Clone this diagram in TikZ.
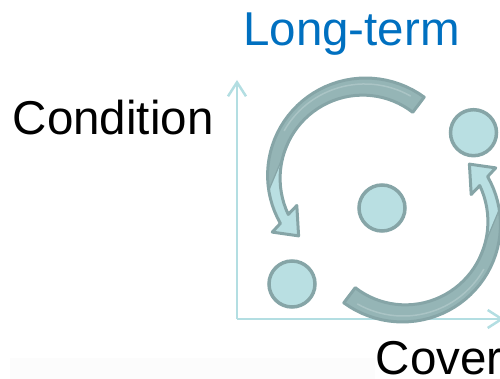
\documentclass[tikz,border=0pt]{standalone}
\usepackage{fontspec}
\setmainfont{Liberation Sans}
\usetikzlibrary{arrows.meta}
\definecolor{axiscol}{HTML}{B3DEE2}
\definecolor{edgecol}{HTML}{86A5A7}
\definecolor{darkfill}{HTML}{95B5B6}
\definecolor{lightfill}{HTML}{B9DFE2}
\definecolor{bluetext}{HTML}{0070C0}
\definecolor{faintband}{HTML}{FCFCFC}
\tikzset{
  dot/.style={circle, draw=edgecol, fill=lightfill, line width=3.5pt, minimum size=46pt, inner sep=0pt},
  axisline/.style={draw=axiscol, line width=2.5pt, -{Straight Barb[length=14pt,width=18pt]}},
  txt/.style={inner sep=0pt, anchor=base west, font=\fontsize{47.5}{56}\selectfont},
  twistarrow/.pic={
    \fill[darkfill] (53:100) -- plot[domain=53:209,samples=40] (\x:{100-4.4*(\x-53)/156}) -- (211:107) -- (222:88) -- (203:73) -- plot[domain=206.3:53,samples=40] (\x:{81+3.5*(\x-53)/153.3}) -- cycle;
    \draw[darkfill!80!white, line width=1.5pt] plot[domain=60:150,samples=30] (\x:{93.5-2*(\x-53)/156});
    \path[fill=lightfill, draw=edgecol, line width=1.2pt, line join=round] plot[domain=188:209,samples=15] (\x:{100-4.4*(\x-53)/156}) -- (211:107) -- (222:88) -- (203:73) -- plot[domain=206.3:150,samples=20] (\x:{81+3.5*(\x-53)/153.3}) -- cycle;
    \draw[edgecol, line width=3pt, line join=round] (53:100) -- plot[domain=53:209,samples=40] (\x:{100-4.4*(\x-53)/156}) -- (211:107) -- (222:88) -- (203:73) -- plot[domain=206.3:53,samples=40] (\x:{81+3.5*(\x-53)/153.3}) -- cycle;
  }
}
\begin{document}
\begin{tikzpicture}[x=1pt,y=1pt]
\useasboundingbox (0,0) rectangle (500,379);
\fill[faintband] (10,0) rectangle (375,21);
% axes
\coordinate (origin) at (237,60);
\coordinate (ytop) at (237,299);
\coordinate (xend) at (504,60);
\draw[axisline] (origin) -- (ytop);
\draw[axisline] (origin) -- (xend);
% circles
\node[dot] (center) at (382,171) {};
\node[dot] (upright) at (473.5,246.3) {};
\node[dot] (lowleft) at (292,95) {};
% curved arrows
\pic at (364,202) {twistarrow};
\pic[rotate=180] at (404,156) {twistarrow};
% labels
\node[txt, text=bluetext] (longterm) at (243,333) {Long-term};
\node[txt] (condition) at (12.6,244) {Condition};
\node[txt] (cover) at (375.5,4) {Cover};
\end{tikzpicture}
\end{document}
